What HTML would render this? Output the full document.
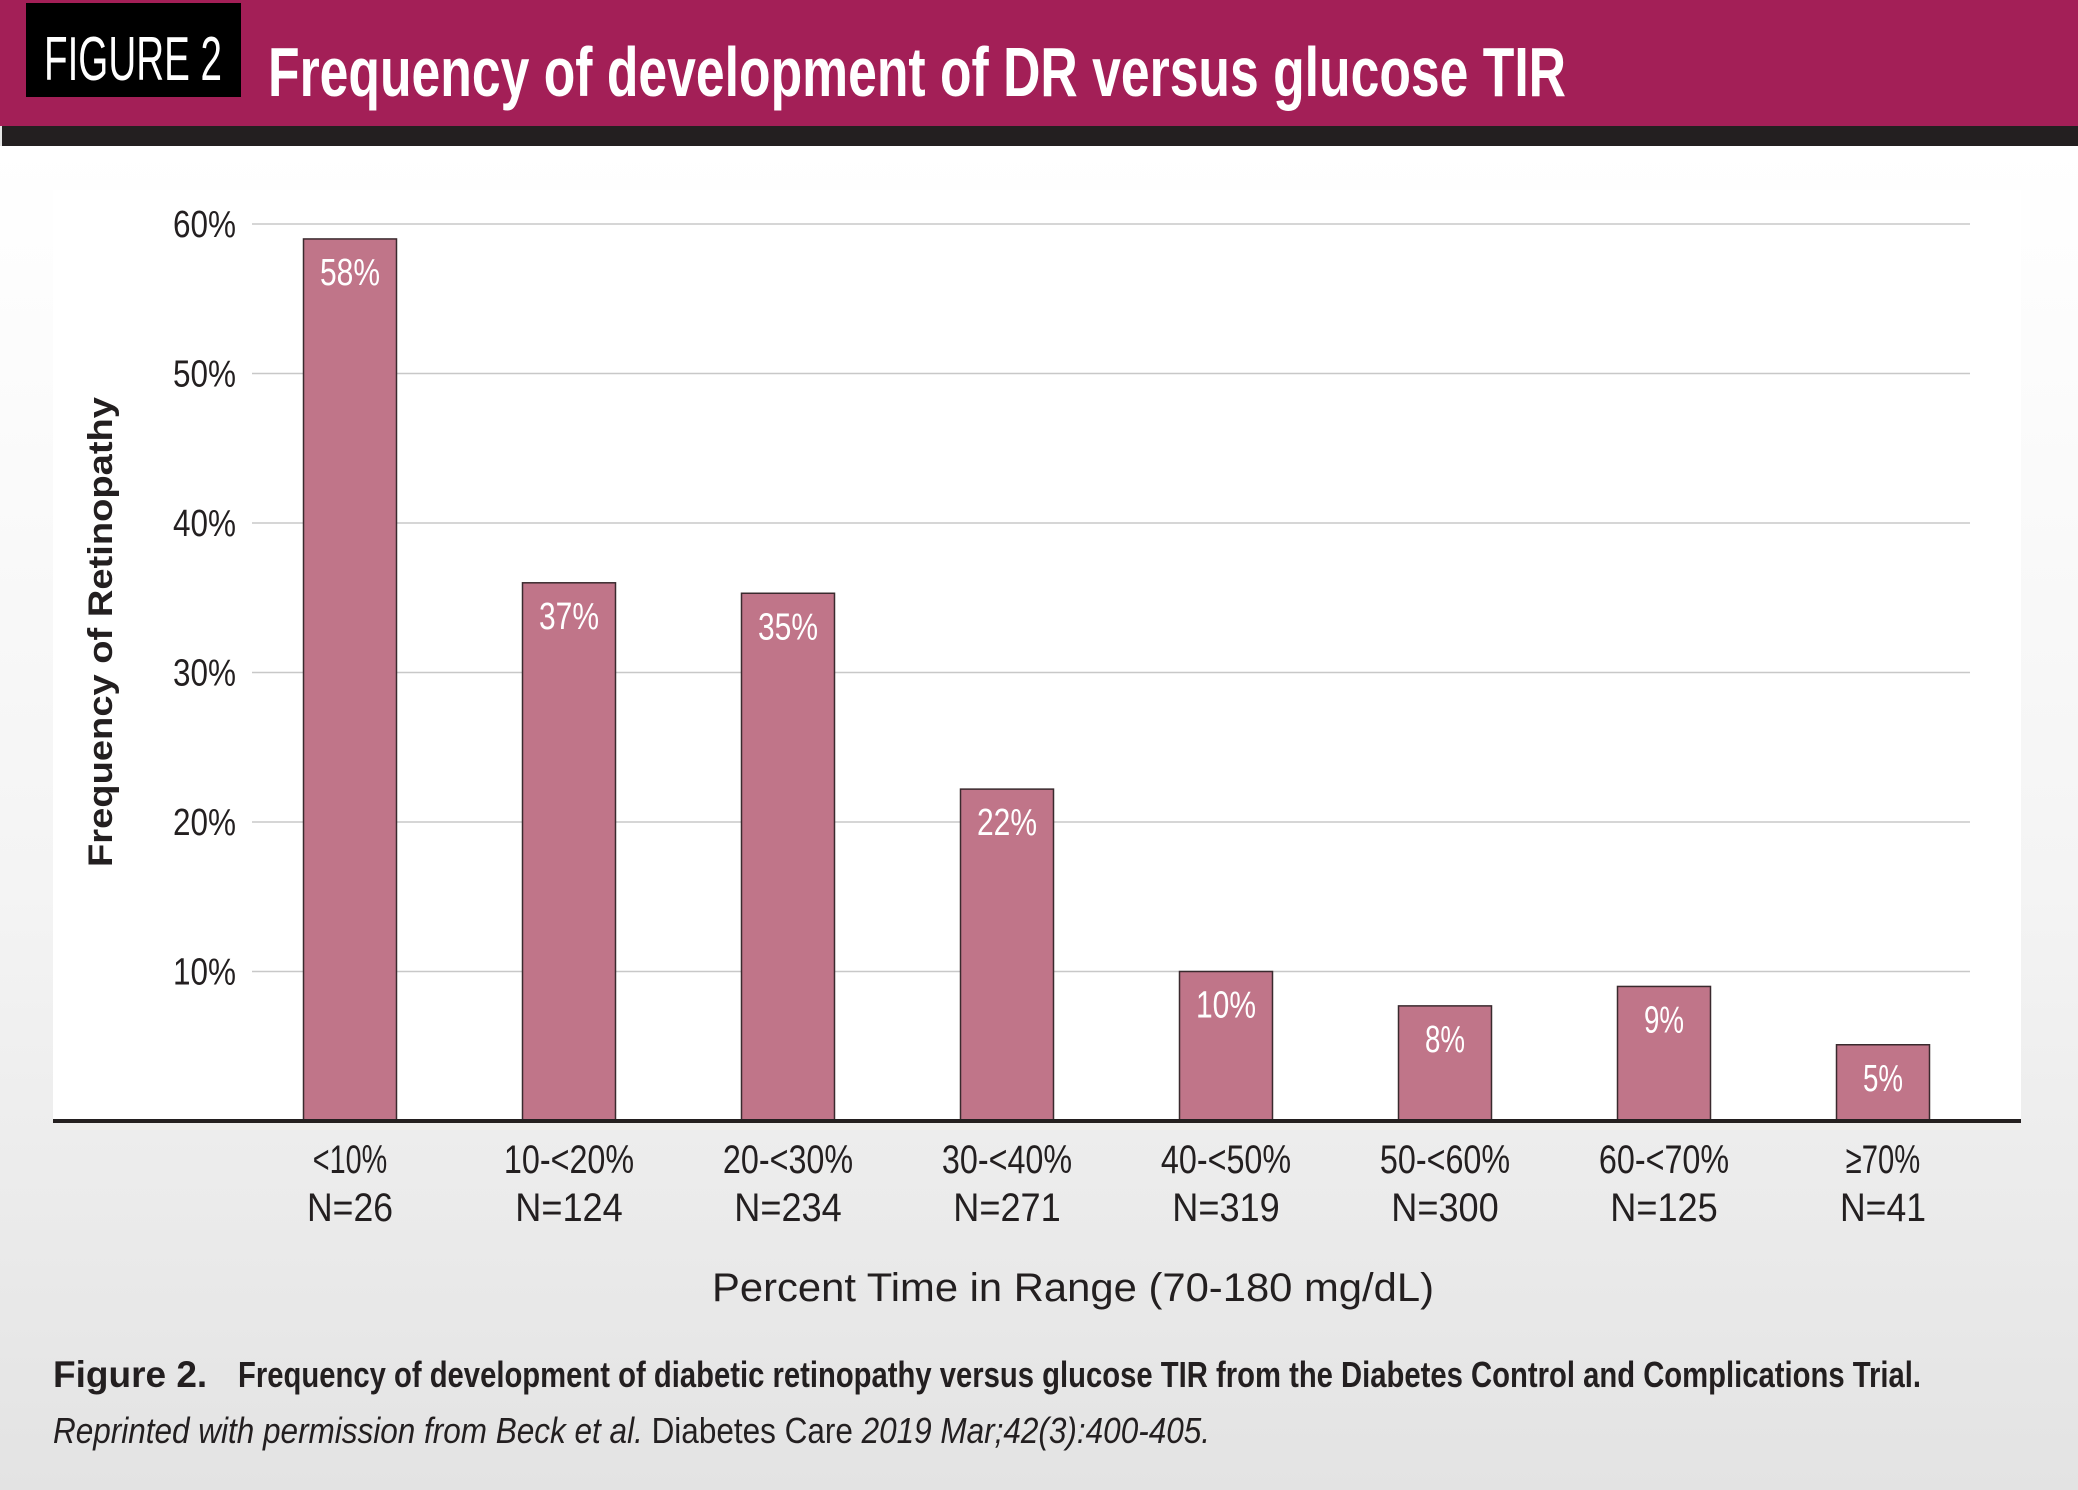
<!DOCTYPE html>
<html><head><meta charset="utf-8"><style>
html,body{margin:0;padding:0;width:2078px;height:1490px;overflow:hidden;background:#e6e6e6}
svg{display:block}
text{font-family:"Liberation Sans Narrow","Liberation Sans",sans-serif}
</style></head><body>
<svg id="fig" width="2078" height="1490" viewBox="0 0 2078 1490">
<defs>
<linearGradient id="bg" x1="0" y1="0" x2="0" y2="1">
<stop offset="0" stop-color="#ffffff"/><stop offset="0.55" stop-color="#f4f4f4"/><stop offset="1" stop-color="#e3e3e3"/>
</linearGradient>
</defs>
<rect x="0" y="146" width="2078" height="1344" fill="url(#bg)"/>
<rect x="53" y="190" width="1968" height="931" fill="#ffffff"/>
<rect x="0" y="0" width="2078" height="126" fill="#a31f57"/>
<rect x="2" y="126" width="2076" height="20" fill="#231f20"/>
<rect x="26" y="3" width="215" height="94" fill="#000"/>
<text x="44" y="80" font-size="62" fill="#fff" textLength="178" lengthAdjust="spacingAndGlyphs">FIGURE 2</text>
<text x="268" y="96" font-size="70" font-weight="bold" fill="#fff" textLength="1298" lengthAdjust="spacingAndGlyphs">Frequency of development of DR versus glucose TIR</text>
<g id="grid"></g>
<g id="bars"></g>
<g id="xlabels"></g>
<line x1="53" y1="1121" x2="2021" y2="1121" stroke="#231f20" stroke-width="4"/>
<text transform="translate(112,632) rotate(-90)" text-anchor="middle" font-size="34" fill="#231f20" style="font-family:'Liberation Sans',sans-serif;font-weight:bold" textLength="470" lengthAdjust="spacingAndGlyphs">Frequency of Retinopathy</text>
<text x="1073" y="1301" text-anchor="middle" font-size="40" fill="#231f20" style="font-family:'Liberation Sans',sans-serif" textLength="722" lengthAdjust="spacingAndGlyphs">Percent Time in Range (70-180 mg/dL)</text>
<text x="53" y="1387" font-size="36" fill="#231f20"><tspan style="font-family:'Liberation Sans',sans-serif" font-weight="bold" font-size="37">Figure 2.</tspan><tspan font-weight="bold" x="238" textLength="1683" lengthAdjust="spacingAndGlyphs">Frequency of development of diabetic retinopathy versus glucose TIR from the Diabetes Control and Complications Trial.</tspan></text>
<text x="53" y="1443" font-size="36" fill="#231f20" textLength="1157" lengthAdjust="spacingAndGlyphs"><tspan font-style="italic">Reprinted with permission from Beck et al.</tspan> Diabetes Care <tspan font-style="italic">2019 Mar;42(3):400-405.</tspan></text>
</svg>
<script>
const categories=["<10%","10-<20%","20-<30%","30-<40%","40-<50%","50-<60%","60-<70%","\u226570%"];
const sampleSizes=["N=26","N=124","N=234","N=271","N=319","N=300","N=125","N=41"];
const values=[59,36,35.3,22.2,10,7.7,9,5.1];
const valueLabels=["58%","37%","35%","22%","10%","8%","9%","5%"];
const yTicks=[10,20,30,40,50,60];
const yTickLabels=["10%","20%","30%","40%","50%","60%"];
const NS="http://www.w3.org/2000/svg";
const y0=1121,yPer=14.95;
function yScale(v){return y0-v*yPer;}
function xScale(i){return 350+i*219;}
const bw=93;
function mk(tag,attrs,parent,txt){const e=document.createElementNS(NS,tag);for(const k in attrs)e.setAttribute(k,attrs[k]);if(txt!==undefined)e.textContent=txt;parent.appendChild(e);return e;}
const grid=document.getElementById('grid');
yTicks.forEach((t,i)=>{
 const l=mk('line',{x1:252,x2:1970,y1:yScale(t),y2:yScale(t),stroke:'#c8c8c8','stroke-width':1.5},grid);
 
 
 const tx=mk('text',{x:236,y:yScale(t)+13,'text-anchor':'end','font-size':38,fill:'#231f20',textLength:yTickLabels[i].length*21,lengthAdjust:'spacingAndGlyphs'},grid,yTickLabels[i]);
 
 
});
const bars=document.getElementById('bars');
values.forEach((v,i)=>{
 const cx=xScale(i);
 const r=mk('rect',{x:cx-bw/2,y:yScale(v),width:bw,height:y0-yScale(v),fill:'#c07589',stroke:'#3a2a2e','stroke-width':1.5},bars);
 
 
 const t=mk('text',{x:cx,y:yScale(v)+46,'text-anchor':'middle','font-size':38,fill:'#fff',textLength:valueLabels[i].length*20,lengthAdjust:'spacingAndGlyphs'},bars,valueLabels[i]);
 
 
});
const xl=document.getElementById('xlabels');
categories.forEach((c,i)=>{
 const cx=xScale(i);
 const a=mk('text',{x:cx,y:1173,'text-anchor':'middle','font-size':40,fill:'#231f20',textLength:c.length*18.6,lengthAdjust:'spacingAndGlyphs'},xl,c);
 
 
 const b=mk('text',{x:cx,y:1221,'text-anchor':'middle','font-size':40,fill:'#231f20',textLength:sampleSizes[i].length*21.5,lengthAdjust:'spacingAndGlyphs'},xl,sampleSizes[i]);
 
 
});
</script>
</body></html>
